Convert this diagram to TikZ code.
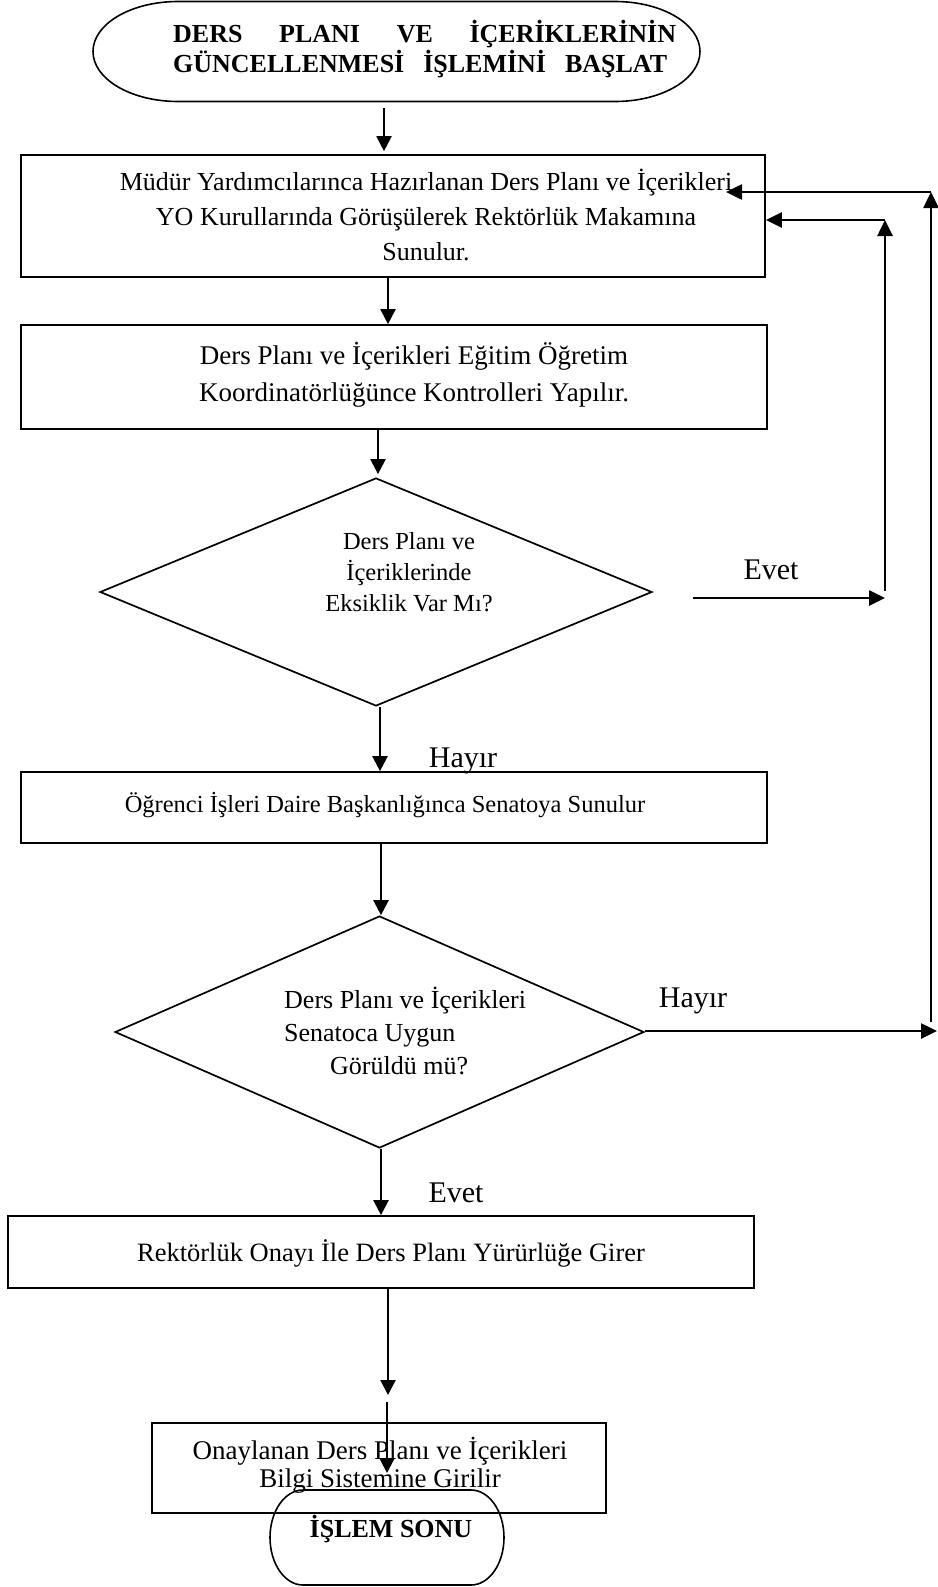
\documentclass[tikz,border=0pt]{standalone}
\usepackage{fontspec}
\setmainfont{Liberation Serif}
\usetikzlibrary{arrows.meta,shapes.geometric}
\begin{document}
\begin{tikzpicture}[x=1pt,y=1pt,
  box/.style={draw,rectangle,line width=1.7pt,inner sep=0pt},
  dia/.style={draw,diamond,line width=1.7pt,inner sep=0pt},
  term/.style={line width=1.6pt},
  arr/.style={line width=2.2pt,-{Triangle[length=15pt,width=15pt]}},
  arrb/.style={line width=2.6pt,-{Triangle[length=16pt,width=15pt]}},
  txt/.style={inner sep=0pt,align=center},
  lbl/.style={inner sep=0pt,font=\fontsize{30}{32}\selectfont}]
\useasboundingbox (0,0) rectangle (937,-1587);

% start terminal
\node[inner sep=0pt,minimum width=607pt,minimum height=100pt] (start) at (396.5,-51.5) {};
\draw[term] (178,-1.5) -- (615,-1.5) arc[start angle=90,end angle=-90,x radius=85,y radius=50]
  -- (178,-101.5) arc[start angle=-90,end angle=-270,x radius=85,y radius=50] -- cycle;
\node[txt,align=left,anchor=west,font=\fontsize{26}{30}\bfseries\selectfont] (title) at (173,-49)
  {\makebox[503pt][s]{DERS\hfill PLANI\hfill VE\hfill İÇERİKLERİNİN}\\
   \makebox[494pt][s]{GÜNCELLENMESİ\hfill İŞLEMİNİ\hfill BAŞLAT}};

% boxes and decisions
\node[box,minimum width=744pt,minimum height=122pt] (b1) at (393,-216) {};
\node[box,minimum width=746pt,minimum height=104pt] (b2) at (394,-377) {};
\node[dia,minimum width=552pt,minimum height=228pt] (d1) at (376,-592) {};
\node[box,minimum width=746pt,minimum height=71pt] (b3) at (394,-807.5) {};
\node[dia,minimum width=529pt,minimum height=232pt] (d2) at (379.5,-1032) {};
\node[box,minimum width=746pt,minimum height=72pt] (b4) at (381,-1252) {};
\node[box,minimum width=454pt,minimum height=90pt] (b5) at (379,-1468) {};

% texts
\node[txt,font=\fontsize{26}{35}\selectfont] (t1) at (426,-215)
  {Müdür Yardımcılarınca Hazırlanan Ders Planı ve İçerikleri\\YO Kurullarında Görüşülerek Rektörlük Makamına\\Sunulur.};
\node[txt,font=\fontsize{27}{37}\selectfont] (t2) at (414,-375)
  {Ders Planı ve İçerikleri Eğitim Öğretim\\Koordinatörlüğünce Kontrolleri Yapılır.};
\node[txt,font=\fontsize{24.5}{31}\selectfont] (t3) at (409,-572)
  {Ders Planı ve\\İçeriklerinde\\Eksiklik Var Mı?};
\node[txt,anchor=base,font=\fontsize{24.5}{30}\selectfont] (t4) at (385,-812)
  {Öğrenci İşleri Daire Başkanlığınca Senatoya Sunulur};
\node[txt,align=left,anchor=west,font=\fontsize{26}{33}\selectfont] (t5) at (284,-1031)
  {Ders Planı ve İçerikleri\\Senatoca Uygun\\\hspace*{46pt}Görüldü mü?};
\node[txt,anchor=base,font=\fontsize{26.5}{30}\selectfont] (t6) at (391,-1261)
  {Rektörlük Onayı İle Ders Planı Yürürlüğe Girer};
\node[txt,font=\fontsize{27}{28}\selectfont] (t7) at (380,-1465)
  {Onaylanan Ders Planı ve İçerikleri\\Bilgi Sistemine Girilir};

% end terminal
\node[inner sep=0pt,minimum width=234pt,minimum height=95pt] (end) at (387,-1537.5) {};
\draw[term] (303,-1490) -- (471,-1490) arc[start angle=90,end angle=-90,x radius=33,y radius=47.5]
  -- (303,-1585) arc[start angle=-90,end angle=-270,x radius=33,y radius=47.5] -- cycle;
\node[txt,font=\fontsize{26}{30}\bfseries\selectfont] (endt) at (391,-1529) {İŞLEM SONU};

% labels
\node[lbl,anchor=base] (ev1) at (771,-579) {Evet};
\node[lbl,anchor=base] (hy1) at (463,-767) {Hayır};
\node[lbl,anchor=base] (hy2) at (693,-1007) {Hayır};
\node[lbl,anchor=base] (ev2) at (456,-1202) {Evet};

% coordinates
\coordinate (m1) at (388,-1395);
\coordinate (m2) at (387,-1402);
\coordinate (m3) at (387,-1473);
\coordinate (r1) at (885,-598);
\coordinate (r2) at (885,-220);
\coordinate (r3) at (937,-1031);
\coordinate (r3b) at (931,-1022);
\coordinate (r4) at (931,-192);
\coordinate (r5) at (726,-192);

% main flow
\draw[arr] ([xshift=-12.5pt,yshift=-6pt]start.south) -- ([xshift=-9pt,yshift=3pt]b1.north);
\draw[arr] ([xshift=-5pt]b1.south) -- ([xshift=-6pt]b2.north);
\draw[arr] ([xshift=-16pt]b2.south) -- ([xshift=2pt,yshift=3pt]d1.north);
\draw[arr] ([xshift=4pt]d1.south) -- ([xshift=-14pt]b3.north);
\draw[arr] ([xshift=-13pt]b3.south) -- ([xshift=1.5pt]d2.north);
\draw[arr] ([xshift=1.5pt]d2.south) -- (b4.north);
\draw[arr] ([xshift=7pt]b4.south) -- (m1);
\draw[arr] (m2) -- (m3);

% feedback loops
\draw[arrb] ([xshift=40pt,yshift=-6pt]d1.east) -- (r1);
\draw[arrb] ([yshift=7pt]r1) -- (r2);
\draw[arrb] (r2) -- (b1.east |- r2);
\draw[arrb] ([yshift=1pt]d2.east) -- (r3);
\draw[arrb] (r3b) -- (r4);
\draw[arrb] (r4) -- (r5);
\end{tikzpicture}
\end{document}
